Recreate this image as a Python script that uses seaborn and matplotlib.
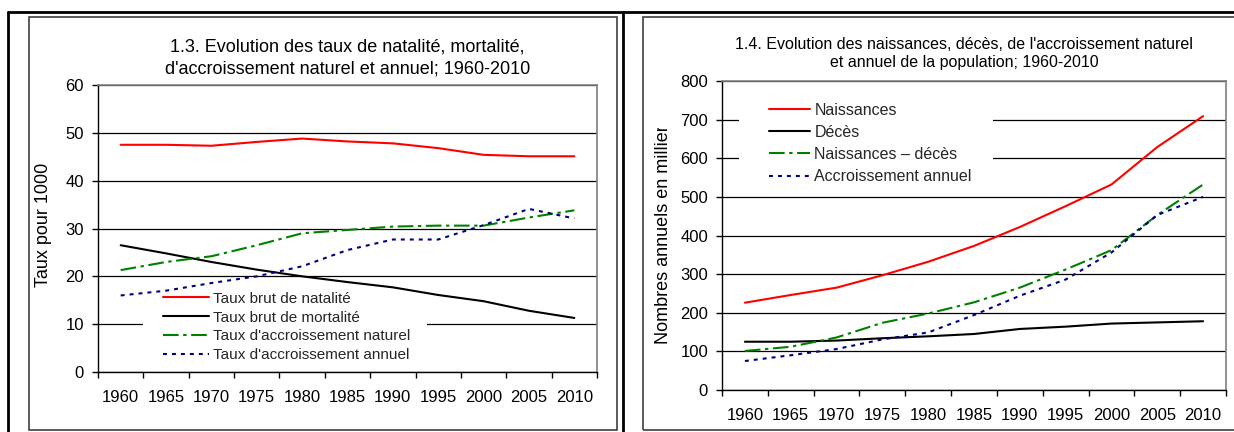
import numpy as np
import pandas as pd
import matplotlib
matplotlib.use("Agg")
import matplotlib.pyplot as plt
import seaborn as sns
from matplotlib.patches import Rectangle
from matplotlib.lines import Line2D
from matplotlib.transforms import Bbox, TransformedBbox

# -----------------------------
# Data
# -----------------------------
years = [1960, 1965, 1970, 1975, 1980, 1985, 1990, 1995, 2000, 2005, 2010]

# 1.3 rates per 1000
natalite = [47.5, 47.5, 47.3, 48.1, 48.8, 48.2, 47.8, 46.8, 45.4, 45.1, 45.1]
mortalite = [26.5, 24.8, 23.0, 21.4, 20.0, 18.8, 17.7, 16.1, 14.8, 12.8, 11.3]
accr_naturel = [21.3, 23.0, 24.2, 26.5, 29.0, 29.7, 30.4, 30.6, 30.6, 32.3, 33.8]
accr_annuel = [16.0, 17.0, 18.6, 20.0, 22.1, 25.5, 27.7, 27.7, 30.7, 34.1, 32.1]

# 1.4 annual numbers (thousands)
naissances = [226, 246, 265, 297, 332, 373, 422, 476, 532, 629, 709]
deces = [125, 125, 128, 134, 139, 145, 158, 164, 172, 175, 178]
naiss_moins_deces = [101, 112, 136, 174, 198, 227, 265, 312, 362, 453, 532]
accr_annuel_nb = [75, 90, 106, 131, 149, 194, 244, 286, 356, 453, 500]

labels_left = ["Taux brut de natalité", "Taux brut de mortalité",
               "Taux d'accroissement naturel", "Taux d'accroissement annuel"]
labels_right = ["Naissances", "Décès", "Naissances \u2013 décès", "Accroissement annuel"]

colors = ["#FF0000", "#000000", "#008000", "#000080"]
styles = ["-", "-", (0, (7.5, 2.2, 1.6, 2.2)), (0, (1.9, 2.4))]

sns.set_theme(style="white")
plt.rcParams["font.family"] = ["Liberation Sans", "DejaVu Sans"]

W, H = 1234, 432
fig = plt.figure(figsize=(W / 100, H / 100), dpi=100)


def fx(x):
    return x / W


def fy(y):
    return 1 - y / H


def make_panel(rect, series, labels, ylim, yticks, title, title_kw, ylabel):
    x0, y0, x1, y1 = rect
    ax = fig.add_axes([fx(x0), fy(y1), fx(x1) - fx(x0), fy(y0) - fy(y1)])
    for vals, lab, c, ls in zip(series, labels, colors, styles):
        df = pd.DataFrame({"annee": years, "valeur": vals})
        sns.lineplot(data=df, x="annee", y="valeur", ax=ax, color=c,
                     linewidth=1.5, linestyle=ls, label=lab, zorder=3)
    ax.set_xlim(1957.5, 2012.5)
    ax.set_ylim(*ylim)
    ax.set_yticks(yticks)
    ax.set_xticks(years)
    ax.set_xticks(np.arange(1957.5, 2013, 5), minor=True)
    ax.tick_params(axis="x", which="major", length=0, pad=13, labelsize=12,
                   colors="black")
    ax.tick_params(axis="x", which="minor", length=4, width=1, direction="out",
                   color="black", bottom=True)
    ax.tick_params(axis="y", length=4, width=1, direction="out", pad=6,
                   labelsize=12, colors="black", left=True)
    ax.set_axisbelow(True)
    ax.yaxis.grid(True, color="black", linewidth=0.9)
    ax.xaxis.grid(False)
    for s in ["left", "bottom"]:
        ax.spines[s].set_color("black")
        ax.spines[s].set_linewidth(1.0)
    for s in ["top", "right"]:
        ax.spines[s].set_color("#808080")
        ax.spines[s].set_linewidth(1.2)
    ax.set_xlabel("")
    ax.set_ylabel(ylabel, fontsize=13, color="black")
    ax.set_title(title, color="black", **title_kw)
    ax.get_legend().remove()
    return ax


# -----------------------------
# 1.3 rates
# -----------------------------
ax1 = make_panel((98, 85, 597, 372),
                 [natalite, mortalite, accr_naturel, accr_annuel],
                 labels_left, (0, 60), range(0, 61, 10),
                 "1.3. Evolution des taux de natalité, mortalité,\n"
                 "d'accroissement naturel et annuel; 1960-2010",
                 dict(fontsize=13, linespacing=1.45, x=0.5, pad=8),
                 "Taux pour 1000")
ax1.yaxis.set_label_coords(-0.093, 0.512)
ax1.add_patch(Rectangle((0.09, 0.03), 0.57, 0.26, transform=ax1.transAxes,
                        facecolor="white", edgecolor="none", zorder=2))
h, l = ax1.get_legend_handles_labels()
ax1.legend(h, l, loc="upper left", bbox_to_anchor=(0.13, 0.28), frameon=False,
           fontsize=11, handlelength=3.0, handletextpad=0.25,
           labelspacing=0.32, borderpad=0, borderaxespad=0)

# -----------------------------
# 1.4 annual numbers
# -----------------------------
ax2 = make_panel((722, 81, 1226, 390),
                 [naissances, deces, naiss_moins_deces, accr_annuel_nb],
                 labels_right, (0, 800), range(0, 801, 100),
                 "1.4. Evolution des naissances, décès, de l'accroissement naturel\n"
                 "et annuel de la population; 1960-2010",
                 dict(fontsize=11.5, linespacing=1.3, x=0.48, pad=10),
                 "Nombres annuels en milliers")
ax2.yaxis.set_label_coords(-0.1, 0.518)
ax2.add_patch(Rectangle((0.034, 0.647), 0.504, 0.308, transform=ax2.transAxes,
                        facecolor="white", edgecolor="none", zorder=2))
h, l = ax2.get_legend_handles_labels()
ax2.legend(h, l, loc="upper left", bbox_to_anchor=(0.093, 0.93), frameon=False,
           fontsize=11.5, handlelength=2.6, handletextpad=0.25,
           labelspacing=0.45, borderpad=0, borderaxespad=0)
lab2 = ax2.yaxis.label
lab2.set_clip_on(True)
lab2.set_clip_box(TransformedBbox(Bbox([[0, 0], [1, fy(128)]]), fig.transFigure))

# -----------------------------
# Frames around the panels
# -----------------------------
fig.add_artist(Rectangle((fx(29), fy(430)), fx(617) - fx(29), fy(17) - fy(430),
                         transform=fig.transFigure, facecolor="none",
                         edgecolor="#404040", linewidth=1.2))
fig.add_artist(Rectangle((fx(643), fy(430)), fx(1240) - fx(643), fy(17) - fy(430),
                         transform=fig.transFigure, facecolor="none",
                         edgecolor="#404040", linewidth=1.2))
for xs, ys in [((8, 1234), (12, 12)), ((8, 8), (12, 432)), ((623, 623), (12, 432))]:
    fig.add_artist(Line2D([fx(v) for v in xs], [fy(v) for v in ys],
                          transform=fig.transFigure, color="black", linewidth=2))

fig.savefig("out.png", dpi=100)
